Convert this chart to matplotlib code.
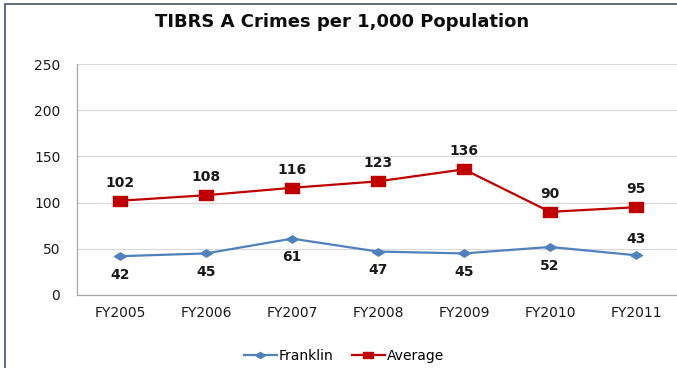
import matplotlib
matplotlib.use("Agg")
import matplotlib.pyplot as plt
from matplotlib.lines import Line2D
from matplotlib.patches import Rectangle
from matplotlib.path import Path

years = ["FY2005", "FY2006", "FY2007", "FY2008", "FY2009", "FY2010", "FY2011"]
franklin = [42, 45, 61, 47, 45, 52, 43]
average = [102, 108, 116, 123, 136, 90, 95]
# label placement for Franklin: below the point except the last one
franklin_above = [False, False, False, False, False, False, True]

BLUE = "#4F81BD"
RED = "#C00000"

# the original picture is stretched sideways, so the markers are too
WIDE_SQUARE = Path([(-0.75, -0.5), (0.75, -0.5), (0.75, 0.5), (-0.75, 0.5), (-0.75, -0.5)],
                   closed=True)
WIDE_DIAMOND = Path([(-0.8, 0), (0, 0.5), (0.8, 0), (0, -0.5), (-0.8, 0)], closed=True)

fig = plt.figure(figsize=(6.77, 3.68), dpi=100)
ax = fig.add_axes([77 / 677, 73 / 368, 602 / 677, 231 / 368])

x = list(range(len(years)))
ax.plot(x, franklin, color=BLUE, marker=WIDE_DIAMOND, markersize=8.5, linewidth=1.6)
ax.plot(x, average, color=RED, marker=WIDE_SQUARE, markersize=10.5, linewidth=1.6)

for xi, v in zip(x, average):
    ax.annotate(str(v), (xi, v), xytext=(0, 8), textcoords="offset points",
                ha="center", va="bottom", fontsize=10, fontweight="bold",
                family="DejaVu Sans", color="#1a1a1a")
for xi, v, up in zip(x, franklin, franklin_above):
    ax.annotate(str(v), (xi, v), xytext=(0, 7 if up else -8.5), textcoords="offset points",
                ha="center", va="bottom" if up else "top", fontsize=10,
                fontweight="bold", family="DejaVu Sans", color="#1a1a1a")

ax.set_xlim(-0.5, len(years) - 0.5)
ax.set_ylim(0, 250)
ax.set_yticks(range(0, 251, 50))
ax.set_xticks(x)
ax.set_xticklabels(years)
ax.tick_params(axis="both", length=0, labelsize=10, colors="#1a1a1a")
ax.tick_params(axis="y", pad=12)
ax.tick_params(axis="x", pad=8)
ax.grid(axis="y", color="#D9D9D9", linewidth=0.9)
ax.set_axisbelow(True)
for side in ("top", "right"):
    ax.spines[side].set_visible(False)
for side in ("left", "bottom"):
    ax.spines[side].set_color("#A6A6A6")
    ax.spines[side].set_linewidth(0.9)

fig.text(342 / 677, 1 - 22 / 368, "TIBRS A Crimes per 1,000 Population",
         ha="center", va="center", fontsize=13, fontweight="bold",
         family="DejaVu Sans", color="#0d0d0d")

handles = [
    Line2D([], [], color=BLUE, marker=WIDE_DIAMOND, markersize=7, linewidth=1.6),
    Line2D([], [], color=RED, marker=WIDE_SQUARE, markersize=7, linewidth=1.6),
]
fig.legend(handles, ["Franklin", "Average"], loc="center",
           bbox_to_anchor=(344 / 677, 1 - 356 / 368), ncol=2, frameon=False,
           fontsize=10, handlelength=2.4, columnspacing=1.3, handletextpad=0.15)

# outer chart border (top and left edges visible)
fig.patches.append(Rectangle((5 / 677, -0.1), 1.1, (368 - 4) / 368 + 0.1,
                             transform=fig.transFigure, fill=False,
                             edgecolor="#44546A", linewidth=1.2))

fig.savefig("out.png", dpi=100)
